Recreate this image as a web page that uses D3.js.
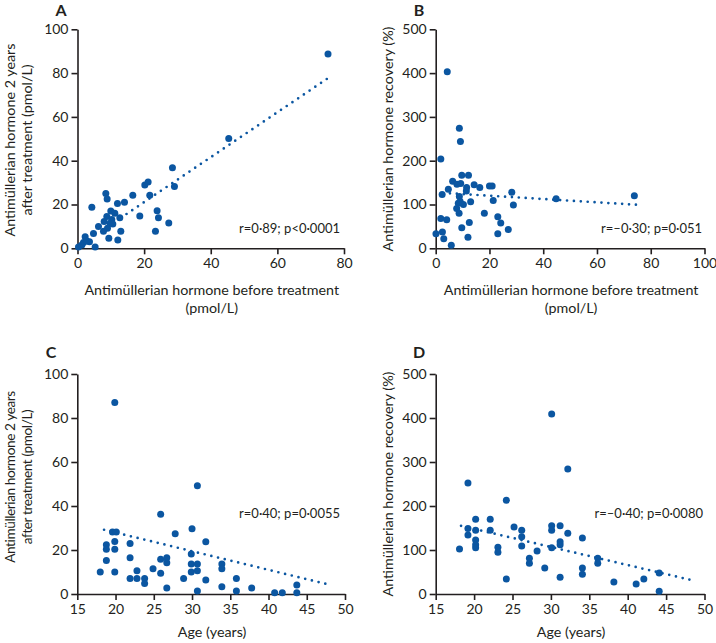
<!DOCTYPE html>
<html><head><meta charset="utf-8">
<script src="https://cdn.jsdelivr.net/npm/d3@7"></script>
<style>
body{margin:0;background:#fff;}
text{font-family:Lato,"Open Sans",sans-serif;fill:#231f20;}
</style></head>
<body><svg id="c" width="716" height="643"></svg>
<script>
// Panel A: AMH before vs AMH 2 years after (pmol/L)
const aX=[75.2,45.4,28.5,29.1,20.2,21.2,21.7,16.6,8.5,8.9,4.3,12.0,14.1,10.0,11.2,12.7,23.9,24.3,18.7,27.4,23.4,13.0,12.1,9.4,8.0,8.8,9.8,10.3,9.0,7.8,6.3,4.8,2.3,3.6,1.8,5.3,0.3,1.3,2.8,10.6];
const aY=[88.7,50.1,36.8,28.2,28.9,30.3,24.2,24.2,25.0,22.5,18.7,20.4,21.0,17.0,16.0,14.0,17.2,14.0,14.8,11.6,7.8,7.8,3.8,4.6,12.2,14.5,11.4,13.2,9.1,7.8,9.9,6.8,5.3,3.0,2.6,0.6,0.6,1.5,3.3,11.1];
const aLineX=[13,75.6], aLineY=[13.9,78.1];
// Panel B: AMH before vs AMH recovery (%)
const bX=[4.3,8.8,9.2,1.9,9.7,12.2,6.3,7.9,9.3,11.5,14.3,16.4,20.0,21.0,4.7,2.4,11.4,8.8,9.1,10.3,8.4,13.0,21.4,28.3,28.9,44.8,73.9,7.8,8.7,18.1,1.9,4.1,12.5,23.1,24.2,27.0,9.7,2.5,0.1,3.0,12.0,23.1,5.8];
const bY=[403,274,244,204,167,167,153,146,148,139,145,139,142,142,135,123,131,118,107,100,103,106,109,128,99,113,120,91,80,80,68,65,59,72,58,43,47,37,33,22,25,33,7];
const bLineX=[5.3,75.8], bLineY=[125.6,99];
// Panel C: age vs AMH 2 years after (pmol/L)
const cX=[19.9,30.7,25.9,27.8,30.0,19.6,20.1,31.8,18.8,18.8,19.9,19.9,21.9,29.9,21.9,18.8,25.9,26.7,26.7,29.9,30.7,33.9,33.9,22.8,24.9,18.0,19.9,25.9,29.9,30.7,21.9,22.8,23.8,23.8,28.9,31.8,35.8,26.7,30.7,33.9,35.8,37.8,40.8,41.8,43.7,43.7];
const cY=[87.1,49.2,36.2,27.4,29.7,28.2,28.2,23.8,22.4,20.3,23.9,20.3,23.0,18.2,16.5,15.2,15.8,16.5,14.2,13.6,13.6,13.6,11.5,10.6,11.5,10.0,10.0,9.4,10.0,10.6,7.1,7.1,7.1,4.8,7.1,6.4,7.1,2.7,1.4,3.3,1.4,2.7,0.6,0.6,4.1,0.6];
const cLineX=[18.5,48], cLineY=[29.2,4.2];
// Panel D: age vs AMH recovery (%)
const dX=[30.1,32.2,19.2,24.2,20.2,22.1,30.1,30.1,31.2,25.2,19.2,19.2,20.2,22.1,26.2,26.2,32.2,34.1,20.2,20.2,20.2,18.1,23.1,23.1,26.2,28.2,31.2,31.2,30.1,27.2,27.2,36.1,36.1,29.2,34.1,34.1,24.2,31.2,38.2,41.1,42.1,44.1,44.1];
const dY=[409,284,252,213,170,170,155,145,155,152,149,134,145,145,145,130,138,127,123,112,105,102,106,95,109,98,119,112,105,81,70,81,70,59,59,45,34,38,27,23,34,48,6];
const dLineX=[18.3,48.2], dLineY=[155,32];

const xTicksAB=[[0,20,40,60,80],[0,20,40,60,80,100]];
const yTicksA=[0,20,40,60,80,100], yTicksB=[0,100,200,300,400,500];
const xTicksCD=[15,20,25,30,35,40,45,50];

const svg=d3.select("#c");
const col="#0b56a1";

function panel(o){
  const x=d3.scaleLinear().domain(o.xd).range([o.l,o.r]);
  const y=d3.scaleLinear().domain(o.yd).range([o.b,o.t]);
  const g=svg.append("g");
  const ax=g.append("g").attr("transform",`translate(0,${o.b})`)
    .call(d3.axisBottom(x).tickValues(o.xt).tickSize(6).tickSizeOuter(0).tickPadding(4).tickFormat(d3.format("d")));
  const ay=g.append("g").attr("transform",`translate(${o.l},0)`)
    .call(d3.axisLeft(y).tickValues(o.yt).tickSize(6).tickSizeOuter(0).tickPadding(3).tickFormat(d3.format("d")));
  [ax,ay].forEach(a=>{
    a.selectAll("path,line").attr("stroke","#231f20").attr("stroke-width",1.6);
    a.selectAll("text").style("font-size","14px").attr("fill","#231f20");
  });
  g.append("path").datum(d3.range(o.lx.length))
    .attr("d",d3.line().x(i=>x(o.lx[i])).y(i=>y(o.ly[i])))
    .attr("stroke",col).attr("stroke-width",2.7).attr("stroke-linecap","round")
    .attr("stroke-dasharray","0,6.9").attr("fill","none");
  g.append("g").selectAll("circle").data(d3.range(o.px.length)).join("circle")
    .attr("cx",i=>x(o.px[i])).attr("cy",i=>y(o.py[i])).attr("r",3.5).attr("fill",col);
  g.append("text").attr("x",o.tx).attr("y",o.ty).text(o.title)
    .style("font-size","16px").style("font-weight","bold").attr("text-anchor","middle");
  const xl=g.append("text").attr("text-anchor","middle").style("font-size","14.3px");
  o.xl.forEach((s,i)=>xl.append("tspan").attr("x",(o.l+o.r)/2+1).attr("y",o.xly+i*18).text(s));
  const yl=g.append("text").attr("text-anchor","middle").style("font-size",o.ylfs||"14.3px")
    .attr("transform",`translate(0,${o.ylc}) rotate(-90)`);
  o.yl.forEach((s,i)=>yl.append("tspan").attr("x",0).attr("y",o.ylx[i]).text(s));
  if(o.ylsp) yl.style("letter-spacing",o.ylsp);
  g.append("text").attr("x",o.sx).attr("y",o.sy).attr("text-anchor","end").style("font-size","13px").text(o.stat);
}

panel({xd:[0,80],yd:[0,100],l:77.5,r:344,t:29.3,b:248.3,xt:xTicksAB[0],yt:yTicksA,
  px:aX,py:aY,lx:aLineX,ly:aLineY,title:"A",tx:61,ty:16,
  xl:["Antimüllerian hormone before treatment","(pmol/L)"],xly:295,
  yl:["Antimüllerian hormone 2 years","after treatment (pmol/L)"],ylx:[15,32],ylc:140,
  stat:"r=0·89; p<0·0001",sx:340,sy:233});
panel({xd:[0,100],yd:[0,500],l:435.7,r:704.5,t:29.3,b:248.3,xt:xTicksAB[1],yt:yTicksB,
  px:bX,py:bY,lx:bLineX,ly:bLineY,title:"B",tx:419,ty:16,
  xl:["Antimüllerian hormone before treatment","(pmol/L)"],xly:295,
  yl:["Antimüllerian hormone recovery (%)"],ylx:[393],ylc:139,
  stat:"r=–0·30; p=0·051",sx:702,sy:233});
panel({xd:[15,50],yd:[0,100],l:77.3,r:345,t:374,b:594,xt:xTicksCD,yt:yTicksA,
  px:cX,py:cY,lx:cLineX,ly:cLineY,title:"C",tx:51,ty:358,
  xl:["Age (years)"],xly:637,
  yl:["Antimüllerian hormone 2 years","after treatment (pmol/L)"],ylx:[15,32],ylc:477,ylsp:"-0.4px",ylfs:"13.6px",
  stat:"r=0·40; p=0·0055",sx:340,sy:518});
panel({xd:[15,50],yd:[0,500],l:435.7,r:704.5,t:374,b:594,xt:xTicksCD,yt:yTicksB,
  px:dX,py:dY,lx:dLineX,ly:dLineY,title:"D",tx:419,ty:358,
  xl:["Age (years)"],xly:637,
  yl:["Antimüllerian hormone recovery (%)"],ylx:[393],ylc:484,
  stat:"r=–0·40; p=0·0080",sx:703,sy:518});
</script></body></html>
